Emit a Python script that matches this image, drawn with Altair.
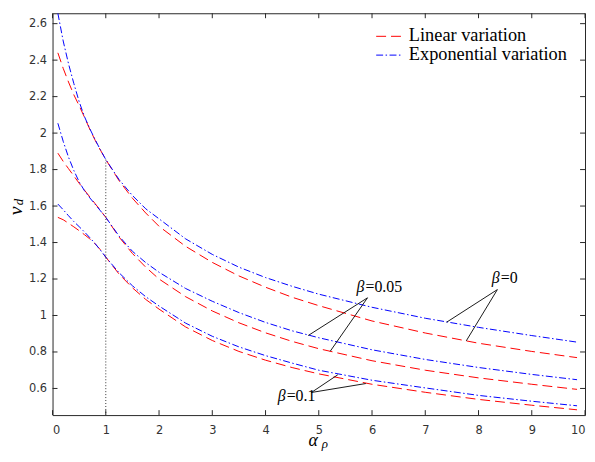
import altair as alt
import pandas as pd

# ---------------- data ----------------
alpha = [0.1, 0.2, 0.3, 0.4, 0.5, 0.6, 0.7, 0.8, 0.9, 1.0, 1.25, 1.5, 1.75, 2.0,
         2.5, 3.0, 3.5, 4.0, 4.5, 5.0, 6.0, 7.0, 8.0, 9.0, 9.85]

lin_b0 = [2.44, 2.355, 2.28, 2.21, 2.15, 2.087, 2.021, 1.961, 1.906, 1.855, 1.739, 1.643, 1.562, 1.489,
          1.379, 1.291, 1.217, 1.155, 1.100, 1.054, 0.970, 0.904, 0.848, 0.803, 0.769]
exp_b0 = [2.657, 2.505, 2.38, 2.272, 2.172, 2.09, 2.024, 1.964, 1.908, 1.855, 1.745, 1.658, 1.585, 1.53,
          1.42, 1.335, 1.265, 1.208, 1.16, 1.117, 1.045, 0.985, 0.935, 0.89, 0.854]
lin_b05 = [1.89, 1.845, 1.805, 1.765, 1.725, 1.687, 1.65, 1.613, 1.576, 1.538, 1.43, 1.34, 1.265, 1.2,
           1.103, 1.025, 0.96, 0.905, 0.858, 0.818, 0.752, 0.7, 0.658, 0.623, 0.595]
exp_b05 = [2.054, 1.955, 1.868, 1.795, 1.733, 1.684, 1.645, 1.61, 1.574, 1.538, 1.435, 1.352, 1.29, 1.237,
           1.148, 1.078, 1.016, 0.962, 0.916, 0.878, 0.812, 0.759, 0.715, 0.677, 0.648]
lin_b1 = [1.538, 1.525, 1.506, 1.486, 1.465, 1.443, 1.42, 1.393, 1.36, 1.32, 1.227, 1.152, 1.088, 1.035,
          0.937, 0.863, 0.803, 0.755, 0.7145, 0.68, 0.623, 0.579, 0.54, 0.508, 0.483]
exp_b1 = [1.611, 1.58, 1.547, 1.515, 1.487, 1.458, 1.427, 1.394, 1.358, 1.32, 1.234, 1.163, 1.103, 1.052,
          0.958, 0.886, 0.828, 0.78, 0.739, 0.70, 0.645, 0.603, 0.562, 0.53, 0.505]

variations = ["Linear variation", "Exponential variation"]
betas = ["0", "0.05", "0.1"]

x_ticks = [0, 1, 2, 3, 4, 5, 6, 7, 8, 9, 10]
y_ticks = [0.6, 0.8, 1.0, 1.2, 1.4, 1.6, 1.8, 2.0, 2.2, 2.4, 2.6]

vline_alpha = [1.0]
vline_top = [1.855]

# annotation leader lines: apex -> point on curve
ann_a1 = [8.354, 8.354, 5.915, 5.915, 4.861, 4.861]
ann_v1 = [1.142, 1.142, 1.097, 1.097, 0.578, 0.578]
ann_a2 = [7.40, 7.77, 4.80, 5.215, 5.357, 5.883]
ann_v2 = [0.963, 0.861, 0.89, 0.804, 0.675, 0.627]

# annotation labels (left edge, baseline)
lab_a = [8.25, 5.71, 4.23]
lab_v = [1.179, 1.130, 0.533]
lab_rest = ["=0", "=0.05", "=0.1"]

# ---------------- build tables ----------------
rows = []
for var, beta, vals in [
    (variations[0], betas[0], lin_b0), (variations[1], betas[0], exp_b0),
    (variations[0], betas[1], lin_b05), (variations[1], betas[1], exp_b05),
    (variations[0], betas[2], lin_b1), (variations[1], betas[2], exp_b1),
]:
    for a, v in zip(alpha, vals):
        rows.append({"alpha": a, "v": v, "variation": var, "beta": beta})
df = pd.DataFrame(rows)

W, H = 538, 406
AX = "#262626"
xs = alt.Scale(domain=[0, 10], nice=False, zero=False)
ys = alt.Scale(domain=[0.454, 2.657], nice=False, zero=False)
RED, BLUE = "#ff0000", "#0000ff"
DASH_LIN = [10, 5]
DASH_EXP = [7, 2.5, 1.5, 2.5]

AXX = alt.Axis(values=x_ticks, title=None, ticks=False, tickSize=0, domain=False, grid=False,
               labelPadding=10, format="d")
AXY = alt.Axis(values=y_ticks, title=None, ticks=False, tickSize=0, domain=False, grid=False,
               labelPadding=6, format="~g")


def X(f="alpha"):
    return alt.X(f"{f}:Q", scale=xs, axis=AXX)


def Y(f="v"):
    return alt.Y(f"{f}:Q", scale=ys, axis=AXY)


lines = alt.Chart(df).mark_line(strokeWidth=1, clip=True).encode(
    x=X(), y=Y(),
    color=alt.Color("variation:N", scale=alt.Scale(domain=variations, range=[RED, BLUE]), legend=None),
    strokeDash=alt.StrokeDash("variation:N", scale=alt.Scale(domain=variations, range=[DASH_LIN, DASH_EXP]),
                              legend=None),
    detail="beta:N",
)

xt = pd.DataFrame({"alpha": x_ticks})
yt = pd.DataFrame({"v": y_ticks})
tick_b = alt.Chart(xt).mark_rule(color=AX, strokeWidth=1).encode(
    x=X(), y=alt.value(H), y2=alt.value(H - 5))
tick_t = alt.Chart(xt).mark_rule(color=AX, strokeWidth=1).encode(
    x=X(), y=alt.value(0), y2=alt.value(5))
tick_l = alt.Chart(yt).mark_rule(color=AX, strokeWidth=1).encode(
    y=Y(), x=alt.value(0), x2=alt.value(5))
tick_r = alt.Chart(yt).mark_rule(color=AX, strokeWidth=1).encode(
    y=Y(), x=alt.value(W - 5), x2=alt.value(W))

vdf = pd.DataFrame({"alpha": vline_alpha, "v": vline_top})
vline = alt.Chart(vdf).mark_rule(color="#333333", strokeWidth=1, strokeDash=[1, 2]).encode(
    x=X(), y=Y(), y2=alt.value(H))

adf = pd.DataFrame({"alpha": ann_a1, "v": ann_v1, "alpha2": ann_a2, "v2": ann_v2})
ann_lines = alt.Chart(adf).mark_rule(color="#000000", strokeWidth=0.9).encode(
    x=X(), y=Y(), x2="alpha2:Q", y2="v2:Q")

ldf = pd.DataFrame({"alpha": lab_a, "v": lab_v, "rest": lab_rest})
ann_beta = alt.Chart(ldf).mark_text(text="β", font="Liberation Serif", fontStyle="italic", fontSize=16,
                                     align="left", baseline="alphabetic", color="#000000").encode(
    x=X(), y=Y())
ann_rest = alt.Chart(ldf).mark_text(font="Liberation Serif", fontSize=16, align="left",
                                     baseline="alphabetic", dx=9, color="#000000").encode(
    x=X(), y=Y(), text="rest:N")

one = pd.DataFrame({"k": [0]})
leg_red = alt.Chart(one).mark_rule(color=RED, strokeWidth=1, strokeDash=DASH_LIN).encode(
    x=alt.value(327), x2=alt.value(354), y=alt.value(23.3))
leg_blue = alt.Chart(one).mark_rule(color=BLUE, strokeWidth=1, strokeDash=DASH_EXP).encode(
    x=alt.value(327), x2=alt.value(354), y=alt.value(42.3))
leg_t1 = alt.Chart(one).mark_text(text=variations[0], font="Liberation Serif", fontSize=18.5, align="left",
                                  baseline="middle", color="#000000").encode(x=alt.value(360), y=alt.value(22.5))
leg_t2 = alt.Chart(one).mark_text(text=variations[1], font="Liberation Serif", fontSize=18.5, align="left",
                                  baseline="middle", color="#000000").encode(x=alt.value(360), y=alt.value(41.5))

xt_a = alt.Chart(one).mark_text(text="α", font="Liberation Serif", fontStyle="italic", fontSize=18,
                                align="left", baseline="alphabetic", color="#000000").encode(
    x=alt.value(258.5), y=alt.value(437))
xt_r = alt.Chart(one).mark_text(text="ρ", font="Liberation Serif", fontStyle="italic", fontSize=13,
                                align="left", baseline="alphabetic", color="#000000").encode(
    x=alt.value(272), y=alt.value(439))
yt_v = alt.Chart(one).mark_text(text="v", font="Liberation Serif", fontStyle="italic", fontSize=20,
                                align="left", baseline="alphabetic", angle=270, color="#000000").encode(
    x=alt.value(-31), y=alt.value(204))
yt_d = alt.Chart(one).mark_text(text="d", font="Liberation Serif", fontStyle="italic", fontSize=13,
                                align="left", baseline="alphabetic", angle=270, color="#000000").encode(
    x=alt.value(-29.5), y=alt.value(194))

chart = alt.layer(
    lines, vline, ann_lines, ann_beta, ann_rest,
    tick_b, tick_t, tick_l, tick_r,
    leg_red, leg_blue, leg_t1, leg_t2,
    xt_a, xt_r, yt_v, yt_d,
).properties(
    width=W, height=H,
    padding={"left": 45, "top": 3, "right": 2, "bottom": 37},
    autosize=alt.AutoSizeParams(type="none"),
).configure_view(
    stroke=AX, strokeWidth=1
).configure_axis(
    labelFont="DejaVu Sans", labelFontSize=11.5, labelColor="#333333"
)

chart.save("out.html", embed_options={"renderer": "svg", "actions": False})
